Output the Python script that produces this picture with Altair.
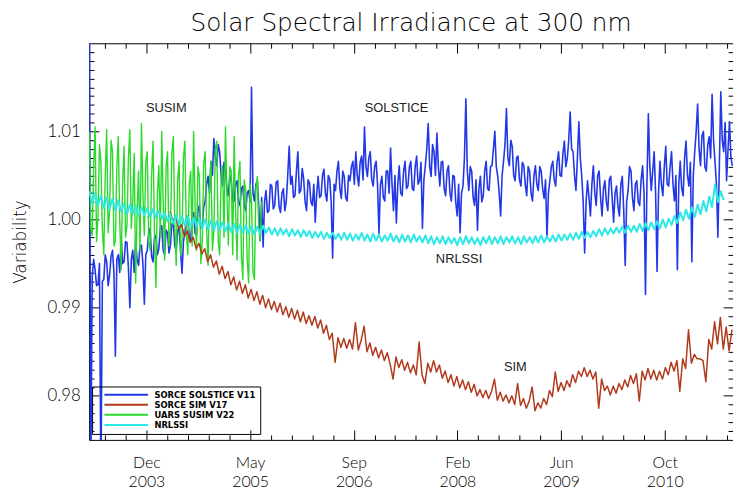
import altair as alt
import pandas as pd

# ---------------- data ----------------
series_names = ["SORCE SOLSTICE V11", "SORCE SIM V17", "UARS SUSIM V22", "NRLSSI"]
series_colors = ["#2237e6", "#b23a1c", "#2ad92a", "#2ee8e8"]

solstice_start, solstice_step = "2003-03-20", 7
solstice = [
    1.0300, 0.9700, 0.9935, 0.9955, 0.9943, 0.9925, 0.9926, 0.9950, 0.9700, 0.9930,
    0.9932, 0.9960, 0.9952, 0.9925, 0.9937, 0.9958, 0.9965, 0.9940, 0.9845, 0.9955,
    0.9960, 0.9940, 0.9979, 0.9950, 0.9952, 0.9975, 0.9974, 0.9945, 0.9900, 0.9955,
    0.9965, 0.9940, 0.9976, 0.9955, 0.9948, 0.9970, 0.9971, 0.9950, 0.9904, 0.9960,
    0.9965, 0.9985, 0.9990, 0.9958, 0.9952, 0.9980, 0.9982, 0.9960, 0.9967, 0.9990,
    0.9993, 0.9965, 0.9960, 0.9988, 0.9985, 0.9962, 0.9971, 0.9995, 0.9997, 0.9970,
    0.9965, 0.9988, 0.9990, 0.9965, 0.9939, 0.9975, 0.9985, 1.0000, 1.0004, 0.9980,
    0.9976, 1.0002, 1.0008, 0.9985, 0.9982, 1.0010, 1.0016, 0.9990, 0.9993, 1.0015,
    1.0021, 1.0040, 1.0049, 1.0030, 1.0066, 1.0050, 1.0092, 1.0070, 1.0061, 1.0085,
    1.0077, 1.0050, 1.0038, 1.0065, 1.0055, 1.0035, 1.0027, 1.0050, 1.0044, 1.0020,
    1.0021, 1.0040, 1.0044, 1.0020, 1.0016, 1.0035, 1.0038, 1.0015, 1.0010, 1.0030,
    1.0033, 1.0020, 1.0150, 1.0030, 1.0021, 1.0040, 1.0044, 1.0015, 0.9976, 1.0025,
    0.9969, 1.0020, 1.0033, 1.0008, 1.0010, 1.0040, 1.0038, 1.0012, 1.0016, 1.0042,
    1.0044, 1.0015, 1.0008, 1.0030, 1.0035, 1.0010, 1.0021, 1.0050, 1.0083, 1.0040,
    1.0049, 1.0025, 1.0027, 1.0055, 1.0077, 1.0030, 1.0033, 1.0058, 1.0046, 1.0020,
    1.0010, 1.0045, 1.0042, 1.0020, 1.0016, 1.0040, 0.9997, 1.0030, 1.0049, 1.0025,
    1.0027, 1.0050, 1.0057, 1.0030, 1.0021, 1.0050, 1.0046, 1.0020, 0.9956, 1.0040,
    1.0033, 1.0055, 1.0066, 1.0035, 1.0024, 1.0055, 1.0049, 1.0025, 1.0021, 1.0050,
    1.0044, 1.0060, 1.0066, 1.0040, 1.0077, 1.0050, 1.0038, 1.0065, 1.0072, 1.0045,
    1.0105, 1.0060, 1.0049, 1.0070, 1.0077, 1.0045, 1.0038, 1.0060, 1.0066, 1.0040,
    0.9984, 1.0040, 1.0049, 1.0025, 1.0021, 1.0055, 1.0055, 1.0030, 1.0081, 1.0040,
    1.0010, 1.0050, 0.9996, 1.0040, 1.0061, 1.0030, 1.0027, 1.0055, 1.0066, 1.0035,
    1.0038, 1.0060, 1.0066, 1.0035, 1.0033, 1.0060, 1.0072, 1.0040, 1.0044, 1.0065,
    0.9990, 1.0045, 1.0061, 1.0080, 1.0109, 1.0060, 1.0049, 1.0085, 1.0077, 1.0050,
    1.0098, 1.0060, 1.0038, 1.0065, 1.0066, 1.0035, 1.0027, 1.0055, 1.0061, 1.0030,
    1.0021, 1.0050, 1.0049, 1.0020, 1.0004, 1.0040, 0.9985, 1.0030, 1.0038, 1.0070,
    1.0137, 1.0055, 1.0033, 1.0060, 1.0055, 1.0025, 1.0016, 1.0045, 0.9988, 1.0035,
    1.0049, 1.0020, 1.0027, 1.0055, 1.0066, 1.0035, 1.0033, 1.0060, 1.0061, 1.0080,
    1.0100, 1.0060, 1.0049, 1.0030, 1.0004, 1.0050, 1.0066, 1.0085, 1.0126, 1.0070,
    1.0061, 1.0090, 1.0083, 1.0050, 1.0044, 1.0070, 1.0072, 1.0045, 1.0038, 1.0065,
    1.0061, 1.0040, 1.0027, 1.0060, 1.0055, 1.0030, 1.0021, 1.0050, 1.0061, 1.0040,
    1.0033, 1.0060, 1.0055, 1.0035, 1.0024, 1.0045, 0.9980, 1.0030, 1.0044, 1.0060,
    1.0066, 1.0045, 1.0038, 1.0065, 1.0077, 1.0050, 1.0049, 1.0075, 1.0089, 1.0060,
    1.0069, 1.0090, 1.0122, 1.0080, 1.0077, 1.0050, 1.0033, 1.0070, 1.0111, 1.0070,
    1.0049, 1.0020, 0.9962, 1.0020, 1.0044, 1.0025, 1.0004, 1.0040, 1.0061, 1.0030,
    1.0016, 1.0050, 1.0055, 1.0025, 1.0004, 1.0035, 1.0044, 1.0020, 1.0010, 1.0045,
    1.0049, 1.0025, 0.9997, 1.0030, 1.0038, 1.0015, 1.0004, 1.0040, 1.0049, 1.0010,
    0.9948, 1.0020, 1.0033, 1.0060, 1.0055, 1.0025, 1.0010, 1.0040, 1.0044, 1.0020,
    1.0016, 1.0045, 1.0061, 1.0030, 0.9915, 1.0040, 1.0120, 1.0060, 1.0033, 1.0055,
    1.0077, 1.0030, 0.9941, 1.0030, 1.0066, 1.0040, 1.0027, 1.0060, 1.0083, 1.0040,
    1.0038, 1.0060, 1.0077, 1.0040, 1.0021, 1.0050, 0.9943, 1.0040, 1.0066, 1.0035,
    1.0027, 1.0070, 1.0089, 1.0050, 1.0038, 1.0065, 0.9952, 1.0050, 1.0077, 1.0100,
    1.0131, 1.0080, 1.0061, 1.0095, 1.0100, 1.0060, 1.0055, 1.0085, 1.0094, 1.0070,
    1.0142, 1.0090, 1.0066, 1.0040, 0.9980, 1.0060, 1.0145, 1.0090, 1.0077, 1.0110,
    1.0044, 1.0080, 1.0111, 1.0070, 1.0061,
]

susim_start, susim_step = "2003-03-20", 7
susim = [
    1.0100, 0.9990, 0.9982, 1.0060, 1.0105, 0.9975, 1.0004, 1.0085, 1.0066, 0.9990,
    0.9960, 1.0050, 1.0102, 0.9985, 1.0010, 1.0090, 1.0077, 0.9970, 0.9976, 1.0060,
    1.0094, 1.0000, 0.9943, 1.0040, 1.0083, 0.9980, 0.9993, 1.0070, 1.0102, 0.9990,
    1.0021, 1.0075, 0.9928, 1.0010, 1.0055, 0.9965, 1.0109, 1.0030, 0.9982, 1.0065,
    1.0077, 0.9975, 0.9965, 1.0050, 1.0089, 0.9985, 0.9923, 1.0030, 1.0061, 0.9980,
    1.0100, 1.0020, 0.9954, 1.0060, 1.0077, 0.9970, 0.9988, 1.0075, 1.0094, 0.9995,
    0.9948, 1.0045, 1.0066, 0.9960, 0.9976, 1.0070, 1.0089, 0.9985, 0.9960, 1.0040,
    1.0055, 0.9970, 1.0100, 1.0020, 0.9965, 1.0060, 1.0049, 0.9950, 0.9976, 1.0065,
    1.0077, 0.9990, 0.9948, 1.0040, 1.0066, 0.9965, 0.9988, 1.0080, 1.0089, 0.9975,
    0.9960, 1.0050, 1.0061, 0.9980, 1.0105, 1.0030, 0.9971, 1.0060, 1.0055, 0.9960,
    1.0094, 1.0010, 0.9954, 1.0050, 1.0066, 0.9960, 0.9932, 1.0045, 1.0033, 0.9955,
    0.9928, 1.0040, 1.0021, 0.9940, 0.9932, 1.0035, 1.0049, 0.9990, 0.9976, 1.0020,
]

sim_start, sim_step = "2004-04-13", 14
sim = [
    1.0009, 0.9999, 1.0003, 0.9990, 0.9994, 0.9981, 0.9987, 0.9974, 0.9980, 0.9967,
    0.9973, 0.9961, 0.9967, 0.9952, 0.9960, 0.9946, 0.9953, 0.9938, 0.9947, 0.9933,
    0.9941, 0.9926, 0.9935, 0.9920, 0.9930, 0.9916, 0.9926, 0.9911, 0.9921, 0.9908,
    0.9918, 0.9904, 0.9914, 0.9900, 0.9910, 0.9898, 0.9907, 0.9895, 0.9905, 0.9892,
    0.9901, 0.9889, 0.9899, 0.9887, 0.9897, 0.9884, 0.9895, 0.9882, 0.9891, 0.9880,
    0.9890, 0.9877, 0.9886, 0.9871, 0.9880, 0.9864, 0.9871, 0.9838, 0.9866, 0.9855,
    0.9865, 0.9854, 0.9864, 0.9853, 0.9883, 0.9852, 0.9863, 0.9879, 0.9850, 0.9860,
    0.9846, 0.9855, 0.9843, 0.9852, 0.9840, 0.9849, 0.9836, 0.9819, 0.9844, 0.9832,
    0.9841, 0.9829, 0.9838, 0.9826, 0.9835, 0.9824, 0.9861, 0.9824, 0.9814, 0.9837,
    0.9827, 0.9840, 0.9827, 0.9835, 0.9820, 0.9828, 0.9815, 0.9824, 0.9811, 0.9822,
    0.9809, 0.9818, 0.9807, 0.9816, 0.9804, 0.9813, 0.9800, 0.9807, 0.9798, 0.9806,
    0.9797, 0.9805, 0.9819, 0.9795, 0.9804, 0.9794, 0.9801, 0.9792, 0.9800, 0.9790,
    0.9814, 0.9789, 0.9797, 0.9786, 0.9794, 0.9810, 0.9783, 0.9792, 0.9786, 0.9797,
    0.9790, 0.9806, 0.9799, 0.9827, 0.9805, 0.9815, 0.9806, 0.9817, 0.9810, 0.9824,
    0.9815, 0.9828, 0.9822, 0.9832, 0.9822, 0.9829, 0.9819, 0.9827, 0.9786, 0.9819,
    0.9806, 0.9811, 0.9801, 0.9811, 0.9803, 0.9814, 0.9807, 0.9818, 0.9810, 0.9823,
    0.9814, 0.9825, 0.9794, 0.9828, 0.9818, 0.9831, 0.9819, 0.9829, 0.9818, 0.9828,
    0.9819, 0.9832, 0.9824, 0.9838, 0.9828, 0.9840, 0.9805, 0.9842, 0.9831, 0.9875,
    0.9837, 0.9847, 0.9842, 0.9842, 0.9840, 0.9816, 0.9864, 0.9853, 0.9884, 0.9859,
    0.9889, 0.9853, 0.9878, 0.9851, 0.9875,
]

nrlssi_start, nrlssi_step = "2003-03-20", 14
nrlssi = [
    1.0032, 1.0018, 1.0030, 1.0016,
    1.0027, 1.0013, 1.0025, 1.0012, 1.0024, 1.0010, 1.0022, 1.0009,
    1.0018, 1.0006, 1.0017, 1.0007, 1.0016, 1.0004, 1.0014, 1.0005, 1.0013, 1.0003,
    1.0012, 1.0002, 1.0010, 1.0001, 1.0008, 0.9998, 1.0006,
    0.9995, 1.0005, 0.9994, 1.0004, 0.9993, 1.0003, 0.9992, 1.0002, 0.9992, 1.0001,
    0.9990, 1.0000, 0.9989, 0.9999, 0.9988, 0.9998, 0.9988, 0.9997, 0.9987, 0.9996,
    0.9986, 0.9995, 0.9985, 0.9994, 0.9985, 0.9993, 0.9984, 0.9993, 0.9983,
    0.9992, 0.9984, 0.9993, 0.9985, 0.9991, 0.9983, 0.9990, 0.9982, 0.9990, 0.9983,
    0.9989, 0.9981, 0.9989, 0.9982, 0.9988, 0.9980, 0.9988, 0.9981, 0.9987, 0.9979,
    0.9986, 0.9980, 0.9986, 0.9978, 0.9985, 0.9979, 0.9985, 0.9978,
    0.9984, 0.9977, 0.9985, 0.9977, 0.9984, 0.9976, 0.9983, 0.9977, 0.9985, 0.9976,
    0.9983, 0.9975, 0.9984, 0.9976, 0.9983, 0.9975, 0.9982, 0.9976, 0.9984, 0.9975,
    0.9982, 0.9974, 0.9983, 0.9975, 0.9982, 0.9974, 0.9983, 0.9975, 0.9981, 0.9974,
    0.9982,
    0.9973, 0.9981, 0.9972, 0.9980, 0.9973, 0.9981, 0.9972, 0.9980, 0.9973, 0.9979,
    0.9971, 0.9980, 0.9972, 0.9981, 0.9973, 0.9980, 0.9972, 0.9979, 0.9971, 0.9980,
    0.9973, 0.9981, 0.9972, 0.9980, 0.9973, 0.9981, 0.9972, 0.9980, 0.9974, 0.9981,
    0.9973, 0.9980, 0.9972, 0.9981, 0.9974, 0.9980, 0.9973, 0.9981, 0.9974, 0.9982,
    0.9974, 0.9981, 0.9975, 0.9982,
    0.9975, 0.9983, 0.9976, 0.9983, 0.9977, 0.9984, 0.9977, 0.9985, 0.9978, 0.9986,
    0.9979, 0.9986, 0.9980, 0.9987,
    0.9981, 0.9989, 0.9982, 0.9990, 0.9983, 0.9990, 0.9984, 0.9991, 0.9985, 0.9992,
    0.9985, 0.9993, 0.9986, 0.9993,
    0.9986, 0.9995, 0.9987, 0.9996, 0.9988, 0.9997, 0.9989, 0.9998, 0.9990, 1.0000,
    0.9991, 1.0001, 0.9994, 1.0004,
    0.9996, 1.0008, 0.9999, 1.0011, 1.0001, 1.0014, 1.0003,
    1.0017, 1.0006, 1.0021, 1.0009, 1.0026, 1.0014, 1.0040,
    1.0020, 1.0032, 1.0022,
]

annot_text = ["SUSIM", "SOLSTICE", "NRLSSI", "SIM"]
annot_date = ["2004-03-26", "2007-04-13", "2008-02-09", "2008-11-07"]
annot_value = [1.0126, 1.0126, 0.9955, 0.9833]

x_domain = ["2003-03-19", "2011-09-25"]
y_domain = [0.975, 1.02]
y_major = [0.98, 0.99, 1.00, 1.01]
first_major, major_days, n_major, n_sub = "2003-12-21", 501, 6, 5


def ms(ts):
    return int(pd.Timestamp(ts).value // 10**6)


def frame(name, start, step, vals):
    dates = pd.date_range(start, periods=len(vals), freq=f"{step}D")
    return pd.DataFrame({"date": [ms(d) for d in dates], "value": vals, "series": name})


x0, x1 = ms(x_domain[0]), ms(x_domain[1])
t0 = pd.Timestamp(first_major)
x_major = [ms(t0 + pd.Timedelta(days=major_days * k)) for k in range(n_major)]
x_minor = []
for j in range(-10, 40):
    if j % n_sub == 0:
        continue
    v = ms(t0 + pd.Timedelta(days=major_days / n_sub * j))
    if x0 < v < x1:
        x_minor.append(v)
y_minor = [round(0.976 + 0.001 * i, 3) for i in range(44)]
y_minor = [v for v in y_minor if y_domain[0] < v < y_domain[1] and v not in y_major]

FONT = "Lato"
WIDE = "DejaVu Sans"
xscale = alt.Scale(type="utc", domain=[x0, x1], nice=False)
yscale = alt.Scale(domain=y_domain, nice=False, zero=False)
cscale = alt.Scale(domain=series_names, range=series_colors)

legend = alt.Legend(
    orient="none", legendX=3, legendY=347, title=None,
    symbolType="M-1,0H15", symbolSize=30.25, symbolStrokeWidth=2,
    symbolOffset=7, labelOffset=43.5, padding=4, rowPadding=1.2,
    labelFont="DejaVu Sans", labelFontSize=8.5, labelFontWeight="bold",
    labelColor="black", labelLimit=300, strokeColor="black", cornerRadius=0,
)

widths = {series_names[0]: 1.6, series_names[1]: 1.5, series_names[2]: 1.4, series_names[3]: 2.0}
frames = {
    series_names[0]: frame(series_names[0], solstice_start, solstice_step, solstice),
    series_names[2]: frame(series_names[2], susim_start, susim_step, susim),
    series_names[1]: frame(series_names[1], sim_start, sim_step, sim),
    series_names[3]: frame(series_names[3], nrlssi_start, nrlssi_step, nrlssi),
}

layers = []
for name in [series_names[0], series_names[2], series_names[1], series_names[3]]:
    layers.append(
        alt.Chart(frames[name]).mark_line(clip=True, strokeWidth=widths[name], strokeJoin="round").encode(
            x=alt.X("date:T", scale=xscale, axis=None),
            y=alt.Y("value:Q", scale=yscale, axis=None),
            color=alt.Color("series:N", scale=cscale, legend=legend),
        )
    )

annot = pd.DataFrame({"date": [ms(d) for d in annot_date], "value": annot_value, "text": annot_text})
layers.append(
    alt.Chart(annot).mark_text(font="Liberation Sans", fontSize=13, color="#222222").encode(
        x=alt.X("date:T", scale=xscale, axis=None),
        y=alt.Y("value:Q", scale=yscale, axis=None),
        text="text:N",
    )
)


def tick_axis(orient, values, size):
    return alt.Axis(orient=orient, values=values, tickSize=size, offset=-size, labels=False,
                    domain=False, grid=False, ticks=True, tickColor="black", tickWidth=1, title=None,
                    minExtent=0, maxExtent=0)


x_label_axis = alt.Axis(
    orient="bottom", values=x_major, ticks=False, domain=True, domainColor="black", domainWidth=1,
    labelExpr="[utcFormat(datum.value, '%b'), utcFormat(datum.value, '%Y')]",
    labelFont=FONT, labelFontWeight=300, labelFontSize=16, labelColor="black", labelPadding=15,
    labelBaseline="top", labelLineHeight=19, labelOverlap=False, labelFlush=False, grid=False, title=None,
)
y_label_axis = alt.Axis(
    orient="left", values=y_major, format=".2f", ticks=False, domain=True, domainColor="black",
    labelFont=FONT, labelFontWeight=300, labelFontSize=17, labelColor="black", labelPadding=9,
    title="Variability", titleFont=WIDE, titleFontWeight=200, titleFontSize=17, titleColor="black",
    titlePadding=18, grid=False, labelOverlap=False,
)
x_top_domain = alt.Axis(orient="top", ticks=False, labels=False, domain=True, domainColor="black",
                        grid=False, title=None, minExtent=0, maxExtent=0)

axis_pairs = [
    (x_label_axis, y_label_axis),
    (tick_axis("bottom", x_major, 10), tick_axis("left", y_major, 10)),
    (tick_axis("bottom", x_minor, 5), tick_axis("left", y_minor, 5)),
    (x_top_domain, tick_axis("right", y_major, 10)),
    (tick_axis("top", x_major, 10), tick_axis("right", y_minor, 5)),
    (tick_axis("top", x_minor, 5), None),
]
axis_df = pd.DataFrame({"date": [ms("2007-01-01")], "value": [1.0]})
for xa, ya in axis_pairs:
    layers.append(
        alt.Chart(axis_df).mark_point(opacity=0).encode(
            x=alt.X("date:T", scale=xscale, axis=xa),
            y=alt.Y("value:Q", scale=yscale, axis=ya),
        )
    )

chart = (
    alt.layer(*layers)
    .resolve_axis(x="independent", y="independent")
    .properties(
        width=651, height=401,
        padding={"left": 82, "top": 33, "right": 0, "bottom": 47},
        autosize=alt.AutoSizeParams(type="none"),
        title=alt.Title("Solar Spectral Irradiance at 300 nm", font=WIDE, fontWeight=200,
                        fontSize=25, color="black", anchor="middle", offset=7),
    )
    .configure_view(stroke=None)
)

chart.save("out.html", embed_options={"renderer": "svg", "actions": False})
